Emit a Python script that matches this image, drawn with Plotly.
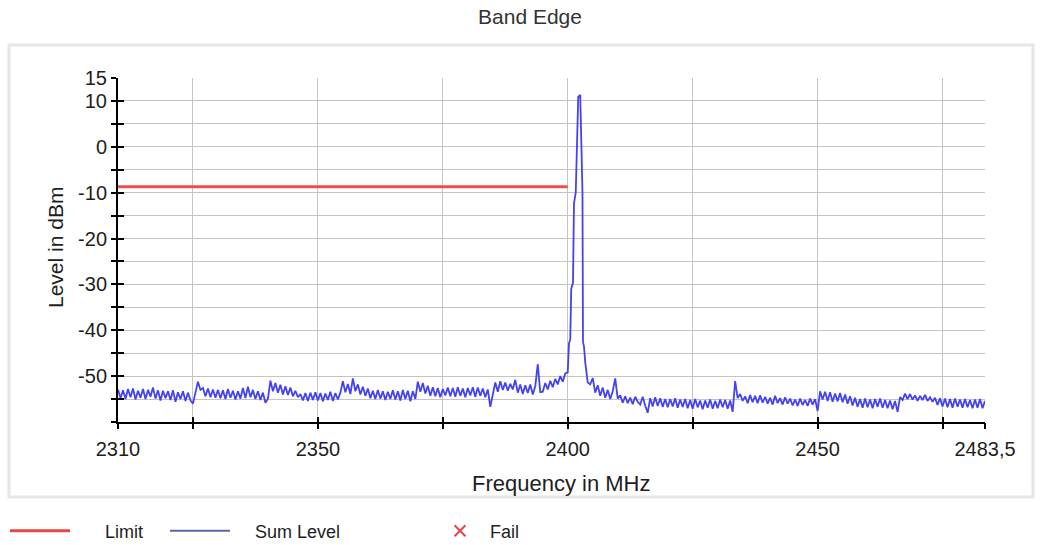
import numpy as np
import plotly.graph_objects as go

# ---------------- data ----------------
# Sum level below the carrier, 2310 .. 2400 MHz, 0.5 MHz steps (181 values)
level_low = [
    -52.9, -54.8, -53.1, -55.0, -52.8, -54.6, -52.7, -55.1, -53.2, -54.7,
    -52.8, -55.0, -53.0, -54.5, -52.5, -54.9, -53.1, -55.3, -53.2, -54.8,
    -53.3, -55.2, -53.1, -55.6, -53.5, -55.0, -53.3, -55.4, -53.6, -55.3,
    -56.0, -53.6, -51.2, -53.0, -52.6, -54.4, -52.7, -54.6, -52.9, -54.7,
    -53.0, -54.8, -53.1, -55.0, -52.8, -54.7, -53.2, -55.1, -53.3, -54.9,
    -52.6, -54.8, -52.3, -54.6, -53.0, -55.0, -53.3, -55.2, -53.6, -55.8,
    -54.9, -51.0, -53.3, -51.5, -53.6, -51.9, -54.0, -52.2, -54.1, -52.5,
    -54.4, -53.2, -54.6, -53.9, -55.3, -53.7, -55.4, -53.6, -55.2, -53.5,
    -55.3, -53.7, -55.5, -53.8, -55.2, -53.4, -55.4, -53.7, -55.1, -53.6,
    -51.1, -53.5, -51.7, -53.9, -50.5, -53.3, -51.8, -54.0, -52.3, -54.3,
    -52.7, -54.8, -53.2, -55.0, -53.0, -54.9, -53.3, -55.2, -53.4, -55.0,
    -53.1, -55.1, -53.3, -55.3, -53.0, -55.0, -53.2, -55.5, -53.3, -55.0,
    -51.2, -53.4, -51.5, -53.8, -52.1, -54.3, -52.4, -54.4, -52.6, -54.6,
    -52.8, -54.2, -52.5, -54.4, -52.6, -54.5, -52.4, -54.3, -52.7, -54.6,
    -52.6, -54.2, -52.4, -54.5, -52.5, -54.3, -52.7, -54.6, -52.9, -56.7,
    -54.0, -51.4, -53.4, -51.1, -53.0, -51.4, -53.2, -51.7, -52.9, -50.8,
    -53.6, -51.8, -53.9, -52.0, -53.7, -51.8, -54.0, -52.2, -47.4, -53.5,
    -53.4, -51.5, -52.9, -51.0, -52.4, -50.6, -51.8, -50.0, -51.2, -49.4,
    -49.2,
]

# Carrier around 2402 MHz
freq_peak = [2400.25, 2400.5, 2400.7, 2401.05, 2401.25, 2401.6, 2401.85, 2402.1,
             2402.5, 2402.65, 2402.8, 2402.95, 2403.05, 2403.25, 2403.5, 2403.75, 2404.0]
level_peak = [-42.8, -42.0, -31.0, -29.6, -12.3, -10.0, 2.2, 10.9,
              11.3, 2.2, -8.3, -10.0, -42.6, -43.5, -47.0, -50.0, -51.4]

# Sum level above the carrier, 2404.5 .. 2483.5 MHz, 0.5 MHz steps (159 values)
level_high = [
    -51.8, -50.4, -53.6, -52.0, -54.3, -52.5, -54.7, -53.0, -55.0, -53.3,
    -50.5, -54.9, -54.2, -55.8, -54.4, -55.9, -54.7, -56.1, -54.5, -55.6,
    -56.2, -54.5, -56.4, -58.0, -54.8, -56.6, -54.6, -56.5, -54.8, -56.7,
    -55.0, -56.8, -55.0, -56.6, -54.8, -56.9, -55.1, -56.7, -55.0, -57.0,
    -55.2, -57.1, -55.0, -56.8, -55.3, -57.2, -55.3, -56.9, -55.1, -57.1,
    -55.4, -57.0, -55.1, -56.8, -55.2, -57.1, -55.3, -57.8, -51.1, -54.8,
    -53.9, -55.4, -54.4, -55.9, -54.1, -55.7, -54.3, -55.9, -54.2, -55.8,
    -54.5, -56.0, -54.7, -56.2, -54.3, -55.9, -54.8, -56.2, -54.6, -56.0,
    -54.9, -56.4, -55.1, -56.5, -54.9, -56.3, -55.2, -56.5, -54.9, -56.2,
    -55.0, -57.6, -53.3, -55.1, -53.4, -55.4, -53.5, -55.6, -53.8, -55.5,
    -53.7, -55.7, -54.0, -56.0, -54.4, -56.4, -54.7, -56.7, -55.0, -56.9,
    -54.9, -56.8, -55.1, -57.0, -55.0, -56.7, -54.9, -56.9, -55.2, -57.0,
    -55.3, -57.2, -55.4, -57.8, -54.6, -55.2, -53.8, -55.0, -53.9, -55.1,
    -54.2, -55.4, -54.3, -55.2, -54.1, -55.4, -54.6, -55.6, -54.7, -56.3,
    -54.8, -56.6, -54.9, -56.8, -55.0, -56.9, -54.9, -56.7, -55.1, -56.9,
    -55.0, -56.8, -55.2, -57.0, -55.1, -56.9, -55.0, -57.0, -55.4,
]

freq_low = np.arange(2310.0, 2400.0 + 0.25, 0.5)
freq_high = np.arange(2404.5, 2483.5 + 0.25, 0.5)

limit_freq = [2310, 2400]
limit_level = [-8.7, -8.7]

x_tick_vals = [2310, 2325, 2350, 2375, 2400, 2425, 2450, 2475, 2483.5]
x_tick_text = ["2310", "", "2350", "", "2400", "", "2450", "", "2483,5"]
x_grid_vals = [2325, 2350, 2375, 2400, 2425, 2450, 2475]
y_tick_vals = list(range(-60, 16, 5))
y_labelled = [15, 10, 0, -10, -20, -30, -40, -50]
y_tick_text = [str(v) if v in y_labelled else "" for v in y_tick_vals]

sum_freq = list(freq_low) + freq_peak + list(freq_high)
sum_level = level_low + level_peak + level_high

# ---------------- figure ----------------
W, H = 1041, 545
L, R, T, B = 118, 56, 78, 123
pw, ph = W - L - R, H - T - B
FONT = "Liberation Sans, Arial, sans-serif"
XR = [2310, 2483.5]
YR = [-60, 15]
NB = "\u00a0"


def px_x(p):
    return (p - L) / pw


def px_y(p):
    return 1 - (p - T) / ph


fig = go.Figure()

fig.add_trace(go.Scatter(x=sum_freq, y=sum_level, mode="lines",
                         line=dict(color="#4343f2", width=1.8),
                         showlegend=False, hoverinfo="skip"))
fig.add_trace(go.Scatter(x=limit_freq, y=limit_level, mode="lines",
                         line=dict(color="#f24b4b", width=3),
                         showlegend=False, hoverinfo="skip"))

# legend-only entries
fig.add_trace(go.Scatter(x=[None], y=[None], mode="lines", name=NB * 6 + "Limit",
                         line=dict(color="#e84545", width=3), legend="legend"))
fig.add_trace(go.Scatter(x=[None], y=[None], mode="lines", name=NB * 4 + "Sum Level",
                         line=dict(color="#6262a8", width=2), legend="legend2"))
fig.add_trace(go.Scatter(x=[None], y=[None], mode="markers", name=NB * 2 + "Fail",
                         marker=dict(symbol="x-thin", size=11,
                                     line=dict(color="#e84545", width=2)),
                         legend="legend3"))

# invisible traces so overlay axes are drawn
fig.add_trace(go.Scatter(x=[None], y=[None], xaxis="x2", yaxis="y",
                         showlegend=False, hoverinfo="skip"))
fig.add_trace(go.Scatter(x=[None], y=[None], xaxis="x3", yaxis="y",
                         showlegend=False, hoverinfo="skip"))
fig.add_trace(go.Scatter(x=[None], y=[None], xaxis="x", yaxis="y2",
                         showlegend=False, hoverinfo="skip"))

tickfont = dict(family=FONT, size=20, color="#1e1e1e")
legfont = dict(family=FONT, size=18, color="#1e1e1e")
LEG_Y = 1 - 531 / H

fig.update_layout(
    width=W, height=H,
    margin=dict(l=L, r=R, t=T, b=B, autoexpand=False),
    paper_bgcolor="white", plot_bgcolor="white",
    title=dict(text="Band Edge", x=530 / W, xref="container", xanchor="center",
               y=1 - 17 / H, yref="container", yanchor="middle",
               font=dict(family=FONT, size=21, color="#333333")),
    xaxis=dict(range=XR, tickmode="array", tickvals=x_grid_vals,
               showticklabels=False, ticks="", showgrid=True,
               gridcolor="#c4c4c4", gridwidth=1, zeroline=False,
               showline=True, linecolor="black", linewidth=2),
    xaxis2=dict(range=XR, overlaying="x", anchor="y", side="bottom",
                tickmode="array", tickvals=x_tick_vals, ticktext=x_tick_text,
                ticks="outside", ticklen=6, tickwidth=2, tickcolor="black",
                ticklabelstandoff=3, tickfont=tickfont,
                showgrid=False, zeroline=False, showline=False),
    xaxis3=dict(range=XR, overlaying="x", anchor="y", side="bottom",
                tickmode="array", tickvals=x_tick_vals,
                ticks="inside", ticklen=5, tickwidth=2, tickcolor="black",
                showticklabels=False, showgrid=False, zeroline=False,
                showline=False),
    yaxis=dict(range=YR, tickmode="array", tickvals=y_tick_vals,
               ticktext=y_tick_text, ticks="outside", ticklen=5, tickwidth=2,
               tickcolor="black", tickfont=tickfont, ticklabelstandoff=0,
               showgrid=True, gridcolor="#c4c4c4", gridwidth=1,
               zeroline=False, showline=True, linecolor="black", linewidth=2),
    yaxis2=dict(range=YR, overlaying="y", anchor="x", side="left",
                tickmode="array", tickvals=y_tick_vals,
                ticks="inside", ticklen=6, tickwidth=2, tickcolor="black",
                showticklabels=False, showgrid=False, zeroline=False,
                showline=False),
    legend=dict(xref="container", yref="container", x=5 / W, y=LEG_Y,
                xanchor="left", yanchor="middle", orientation="h",
                itemwidth=60, font=legfont, bgcolor="rgba(0,0,0,0)"),
    legend2=dict(xref="container", yref="container", x=165 / W, y=LEG_Y,
                 xanchor="left", yanchor="middle", orientation="h",
                 itemwidth=60, font=legfont, bgcolor="rgba(0,0,0,0)"),
    legend3=dict(xref="container", yref="container", x=440 / W, y=LEG_Y,
                 xanchor="left", yanchor="middle", orientation="h",
                 itemwidth=30, font=legfont, bgcolor="rgba(0,0,0,0)"),
    annotations=[
        dict(text="Level in dBm", xref="paper", yref="paper",
             x=px_x(55), y=px_y(248), xanchor="center", yanchor="middle",
             textangle=-90, showarrow=False,
             font=dict(family=FONT, size=21, color="#1e1e1e")),
        dict(text="Frequency in MHz", xref="paper", yref="paper",
             x=px_x(561), y=px_y(483), xanchor="center", yanchor="middle",
             showarrow=False,
             font=dict(family=FONT, size=22, color="#1e1e1e")),
    ],
    shapes=[
        dict(type="rect", xref="paper", yref="paper",
             x0=px_x(9), x1=px_x(1033), y0=px_y(497), y1=px_y(45),
             line=dict(color="#e6e6e6", width=3), fillcolor="rgba(0,0,0,0)",
             layer="below"),
    ],
)

fig.write_html("out.html",
               config={"displayModeBar": False},
               post_script="document.body.style.margin='0';"
                           "document.body.style.padding='0';")
